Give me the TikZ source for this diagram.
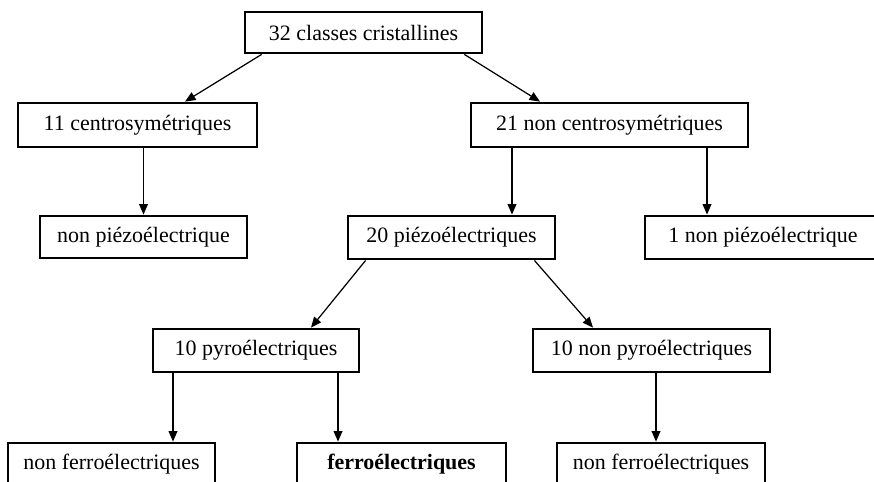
\documentclass[tikz,border=0pt]{standalone}
\usepackage{fontspec}
\setmainfont{Liberation Serif}
\usetikzlibrary{arrows.meta}
\tikzset{
classbox/.style 2 args={draw, line width=1.6pt, inner sep=0pt,
	minimum width=#1, minimum height=#2,
	font=\fontsize{12.5}{15}\selectfont},
arr/.style={-{Triangle[length=6pt,width=5pt]}, line width=0.7pt},
}

\begin{document}
\begin{tikzpicture}[x=0.02cm, y=-0.02cm]
\clip (0,0) rectangle (874,481);
%Place the nodes
\node[classbox={4.74cm}{0.82cm}] (cls) at (363.5,32.5) {32 classes cristallines};

\node[classbox={4.78cm}{0.88cm}] (centro) at (137.5,125) {11 centrosymétriques};
\node[classbox={5.54cm}{0.88cm}] (noncentro) at (609.5,125) {21 non centrosymétriques};

\node[classbox={4.14cm}{0.84cm}] (nonpiezoA) at (143.5,237) {non piézoélectrique};
\node[classbox={4.14cm}{0.86cm}] (piezo) at (451.5,237.5) {20 piézoélectriques};
\node[classbox={4.72cm}{0.86cm}] (nonpiezoB) at (763,237.5) {1 non piézoélectrique};

\node[classbox={4.12cm}{0.86cm}] (pyro) at (256,350.5) {10 pyroélectriques};
\node[classbox={4.74cm}{0.86cm}] (nonpyro) at (651.5,350.5) {10 non pyroélectriques};

\node[classbox={4.14cm}{0.86cm}] (nonferroA) at (111.5,464.5) {non ferroélectriques};
\node[classbox={4.18cm}{0.86cm}] (ferro) at (401.5,464.5) {\textbf{ferroélectriques}};
\node[classbox={4.16cm}{0.86cm}] (nonferroB) at (661,464.5) {non ferroélectriques};

%Arrows
\draw[arr] ([xshift=0.36cm]cls.south west) -- ([xshift=0.95cm]centro.north);
\draw[arr] ([xshift=-0.38cm]cls.south east) -- ([xshift=-1.39cm]noncentro.north);

\draw[arr] (centro.south -| nonpiezoA.north) -- (nonpiezoA.north);
\draw[arr] ([xshift=1.21cm]piezo.north |- noncentro.south) -- ([xshift=1.21cm]piezo.north);
\draw[arr] ([xshift=-1.12cm]nonpiezoB.north |- noncentro.south) -- ([xshift=-1.12cm]nonpiezoB.north);

\draw[arr] ([xshift=0.38cm]piezo.south west) -- ([xshift=1.1cm]pyro.north);
\draw[arr] ([xshift=-0.44cm]piezo.south east) -- ([xshift=-1.17cm]nonpyro.north);

\draw[arr] ([xshift=1.23cm]nonferroA.north |- pyro.south) -- ([xshift=1.23cm]nonferroA.north);
\draw[arr] ([xshift=-1.27cm]ferro.north |- pyro.south) -- ([xshift=-1.27cm]ferro.north);
\draw[arr] ([xshift=-0.1cm]nonferroB.north |- nonpyro.south) -- ([xshift=-0.1cm]nonferroB.north);

\end{tikzpicture}
\end{document}
